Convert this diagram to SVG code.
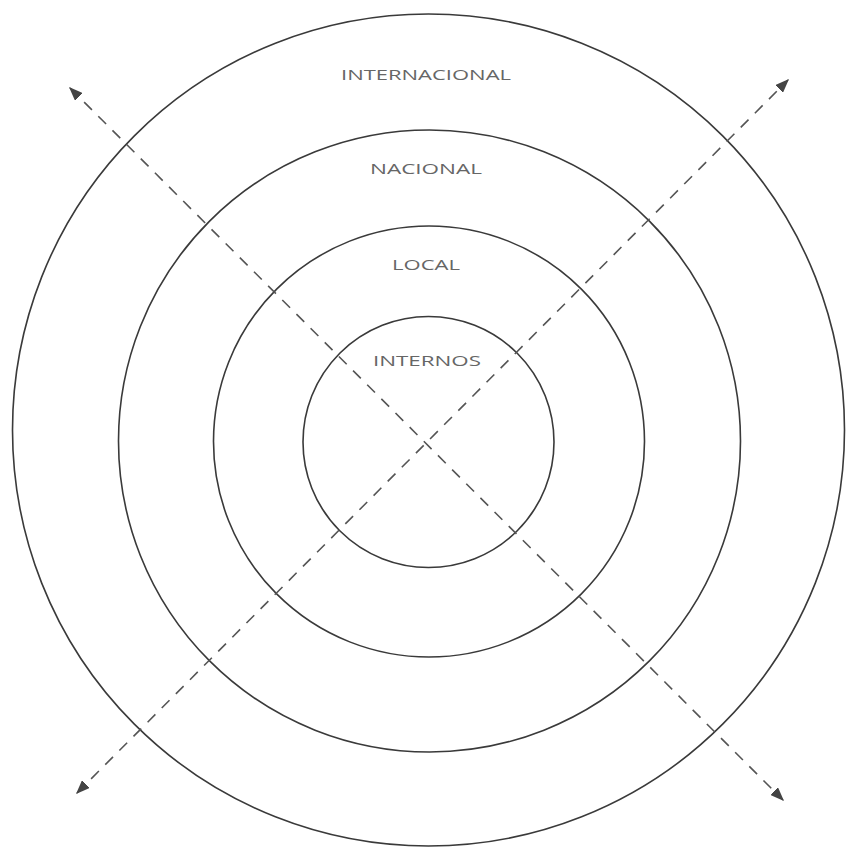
<svg xmlns="http://www.w3.org/2000/svg" width="849" height="850" viewBox="0 0 849 850">
<style>
.ring{fill:none;stroke:#3a3a3a;stroke-width:1.6}
.axis{fill:none;stroke:#555;stroke-width:1.6;stroke-dasharray:11 9}
.lbl{font-family:"Open Sans","DejaVu Sans",sans-serif;font-size:15px;fill:#666;text-anchor:middle}
</style>
<defs>
<marker id="ah" viewBox="0 0 10 10" refX="9" refY="5" markerWidth="14" markerHeight="11" markerUnits="userSpaceOnUse" orient="auto-start-reverse" preserveAspectRatio="none">
<path d="M0,0 L10,5 L0,10 z" fill="#444"/>
</marker>
</defs>
<rect width="849" height="850" fill="#fff"/>
<g id="internacional">
<circle class="ring" cx="428.5" cy="430" r="416"/>
<text class="lbl" x="426" y="80" textLength="170" lengthAdjust="spacingAndGlyphs">INTERNACIONAL</text>
</g>
<g id="nacional">
<circle class="ring" cx="429.5" cy="441" r="311"/>
<text class="lbl" x="426" y="174" textLength="112" lengthAdjust="spacingAndGlyphs">NACIONAL</text>
</g>
<g id="local">
<circle class="ring" cx="429" cy="441.5" r="215.5"/>
<text class="lbl" x="426" y="270" textLength="68" lengthAdjust="spacingAndGlyphs">LOCAL</text>
</g>
<g id="internos">
<circle class="ring" cx="428.5" cy="442" r="125.5"/>
<text class="lbl" x="427" y="366" textLength="108" lengthAdjust="spacingAndGlyphs">INTERNOS</text>
</g>
<g id="connectors">
<line class="axis" x1="70" y1="88" x2="783" y2="800" marker-start="url(#ah)" marker-end="url(#ah)"/>
<line class="axis" x1="77" y1="793" x2="788" y2="80" marker-start="url(#ah)" marker-end="url(#ah)"/>
</g>
</svg>
